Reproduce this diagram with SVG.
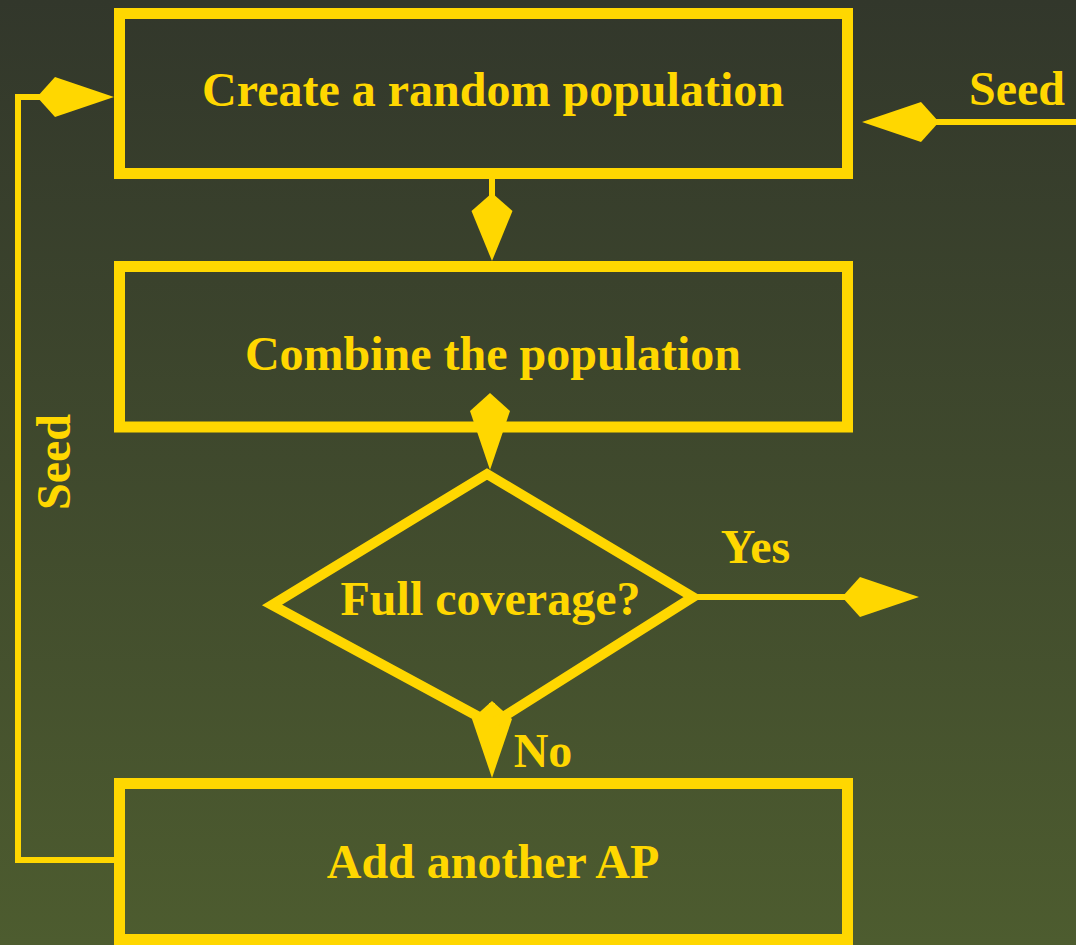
<svg xmlns="http://www.w3.org/2000/svg" width="1076" height="945" viewBox="0 0 1076 945">
<defs>
<linearGradient id="bg" x1="0" y1="0" x2="0" y2="1">
<stop offset="0" stop-color="#32372b"/>
<stop offset="1" stop-color="#4d5c2f"/>
</linearGradient>
<marker id="dia" markerUnits="userSpaceOnUse" markerWidth="78" markerHeight="42" refX="10" refY="20" orient="auto" viewBox="0 0 78 40">
<path d="M77,20 L18,0 L0,20 L18,40 Z" fill="#ffd700"/>
</marker>
<marker id="diaS" markerUnits="userSpaceOnUse" markerWidth="70" markerHeight="42" refX="10" refY="20.5" orient="auto" viewBox="0 0 70 41">
<path d="M68,20.5 L18,0 L0,20.5 L18,41 Z" fill="#ffd700"/>
</marker>
</defs>
<style>
.box{fill:none;stroke:#ffd700;stroke-width:11}
.dec{fill:none;stroke:#ffd700;stroke-width:10;stroke-linejoin:miter;stroke-miterlimit:10}
.lbl{font-family:"Liberation Serif","Times New Roman",serif;font-weight:bold;font-size:48px;fill:#ffd700;text-anchor:middle}
.con{fill:none;stroke:#ffd700;stroke-width:6}
</style>
<rect width="1076" height="945" fill="url(#bg)"/>
<g id="connectors">
<path class="con" d="M114,860 H18 V97 H47" marker-end="url(#dia)"/>
<path class="con" d="M1076,122 H929" marker-end="url(#dia)"/>
<path class="con" d="M492,178 V203" marker-end="url(#diaS)"/>
<path class="con" d="M490,396 V403" marker-end="url(#dia)"/>
<path class="con" d="M492,703 V711" marker-end="url(#dia)"/>
<path class="con" d="M693,597 H852" marker-end="url(#dia)"/>
<text class="lbl" x="1017" y="105">Seed</text>
<text class="lbl" transform="translate(70,462) rotate(-90)">Seed</text>
<text class="lbl" x="755.5" y="563">Yes</text>
<text class="lbl" x="543" y="767">No</text>
</g>
<g id="node-create">
<rect class="box" x="119.5" y="13.5" width="728" height="160"/>
<text class="lbl" x="493" y="106">Create a random population</text>
</g>
<g id="node-combine">
<rect class="box" x="119.5" y="266.5" width="728" height="160.5"/>
<text class="lbl" x="493" y="370">Combine the population</text>
</g>
<g id="node-coverage">
<polygon class="dec" points="272,605 487,474 693,597 492,724"/>
<text class="lbl" x="490.5" y="615">Full coverage?</text>
</g>
<g id="node-add">
<rect class="box" x="119.5" y="783.5" width="728" height="156"/>
<text class="lbl" x="493" y="878">Add another AP</text>
</g>
</svg>
